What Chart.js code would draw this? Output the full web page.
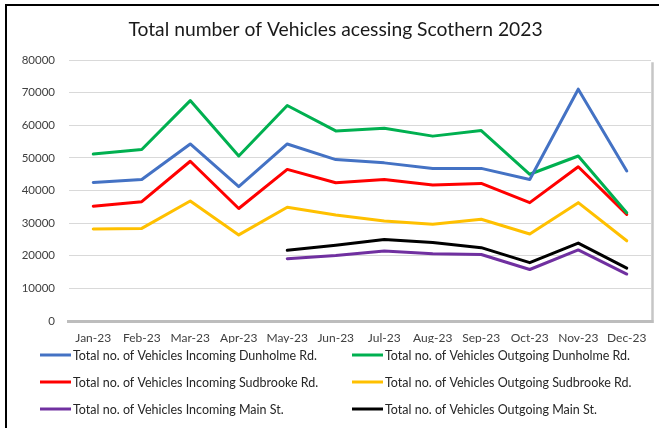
<!DOCTYPE html>
<html>
<head>
<meta charset="utf-8">
<script src="https://cdn.jsdelivr.net/npm/chart.js@4.4.1/dist/chart.umd.min.js"></script>
<style>
  html, body { margin: 0; padding: 0; background: #fff; }
  #wrap { position: relative; width: 659px; height: 428px; overflow: hidden; }
  #frame { position: absolute; left: 5px; top: 4px; width: 700px; height: 500px;
           border-top: 2px solid #000; border-left: 2px solid #000; pointer-events: none; }
  canvas { position: absolute; left: 0; top: 0; }
</style>
</head>
<body>
<div id="wrap">
  <canvas id="c" width="659" height="428"></canvas>
  <div id="frame"></div>
</div>
<script>
const months = ["Jan-23","Feb-23","Mar-23","Apr-23","May-23","Jun-23","Jul-23","Aug-23","Sep-23","Oct-23","Nov-23","Dec-23"];
const incomingDunholme  = [42500, 43400, 54300, 41200, 54300, 49500, 48500, 46800, 46800, 43400, 71100, 46000];
const outgoingDunholme  = [51200, 52600, 67600, 50600, 66100, 58300, 59100, 56700, 58400, 45000, 50600, 33200];
const incomingSudbrooke = [35200, 36600, 49000, 34500, 46500, 42400, 43400, 41700, 42200, 36300, 47300, 32700];
const outgoingSudbrooke = [28200, 28400, 36800, 26400, 34900, 32500, 30700, 29700, 31200, 26700, 36300, 24600];
const incomingMain      = [null, null, null, null, 19100, 20100, 21500, 20600, 20400, 15800, 21800, 14400];
const outgoingMain      = [null, null, null, null, 21700, 23200, 25000, 24100, 22500, 17900, 23900, 16200];
const yTicks = [0, 10000, 20000, 30000, 40000, 50000, 60000, 70000, 80000];
const titleText = "Total number of Vehicles acessing Scothern 2023";

const FONT = "Lato, 'Open Sans', sans-serif";

function ds(label, data, color) {
  return { label, data, borderColor: color, backgroundColor: color, borderWidth: 3,
           pointRadius: 0, tension: 0, spanGaps: false, borderJoinStyle: 'round', borderCapStyle: 'round' };
}

const frameShadow = {
  id: 'frameShadow',
  beforeDatasetsDraw(chart) {
    const {ctx, chartArea: a} = chart;
    ctx.save();
    ctx.strokeStyle = '#c6c6c6';
    ctx.lineWidth = 2.5;
    ctx.beginPath();
    ctx.moveTo(a.right + 1.5, a.top + 2);
    ctx.lineTo(a.right + 1.5, a.bottom + 2);
    ctx.stroke();
    ctx.strokeStyle = '#bdbdbd';
    ctx.lineWidth = 3;
    ctx.beginPath();
    ctx.moveTo(a.left - 2, a.bottom + 0.5);
    ctx.lineTo(a.right + 2.5, a.bottom + 0.5);
    ctx.stroke();
    ctx.restore();
  }
};

const customLegend = {
  id: 'customLegend',
  afterDraw(chart) {
    const {ctx} = chart;
    const dsets = chart.data.datasets;
    const cols = [40, 352];
    const rows = [355, 382, 409];
    ctx.save();
    ctx.font = "12.5px " + FONT;
    ctx.textBaseline = 'middle';
    ctx.textAlign = 'left';
    dsets.forEach((d, i) => {
      const x = cols[i % 2], y = rows[Math.floor(i / 2)];
      ctx.strokeStyle = d.borderColor;
      ctx.lineWidth = 3;
      ctx.beginPath();
      ctx.moveTo(x, y);
      ctx.lineTo(x + 31, y);
      ctx.stroke();
      ctx.fillStyle = '#262626';
      ctx.fillText(d.label, x + 33, y + 0.5);
    });
    ctx.restore();
  }
};

new Chart(document.getElementById('c'), {
  type: 'line',
  data: {
    labels: months,
    datasets: [
      ds("Total no. of Vehicles Incoming Dunholme Rd.", incomingDunholme, '#4472C4'),
      ds("Total no. of Vehicles Outgoing Dunholme Rd.", outgoingDunholme, '#00B050'),
      ds("Total no. of Vehicles Incoming Sudbrooke Rd.", incomingSudbrooke, '#FF0000'),
      ds("Total no. of Vehicles Outgoing Sudbrooke Rd.", outgoingSudbrooke, '#FFC000'),
      ds("Total no. of Vehicles Incoming Main St.", incomingMain, '#7030A0'),
      ds("Total no. of Vehicles Outgoing Main St.", outgoingMain, '#000000')
    ]
  },
  options: {
    responsive: false,
    animation: false,
    layout: { padding: { left: 20, right: 8, top: 0, bottom: 85 } },
    plugins: {
      legend: { display: false },
      tooltip: { enabled: false },
      title: {
        display: true, text: titleText, color: '#1a1a1a',
        font: { family: FONT, size: 19.3, weight: 'normal' },
        padding: { top: 18, bottom: 19 }
      }
    },
    scales: {
      x: {
        offset: true,
        grid: { display: false, drawTicks: false },
        border: { display: false },
        ticks: { color: '#404040', font: { family: FONT, size: 12 }, padding: 10, maxRotation: 0, autoSkip: false },
        afterFit(s) { s.height = 22; }
      },
      y: {
        min: 0, max: 80000,
        afterBuildTicks(s) { s.ticks = yTicks.map(v => ({ value: v })); },
        grid: { color: '#d9d9d9', lineWidth: 1, drawTicks: false },
        border: { display: false },
        ticks: { color: '#404040', font: { family: FONT, size: 11.5 }, padding: 14,
                 callback: (v) => String(v) },
        afterFit(s) { s.width = 49; }
      }
    }
  },
  plugins: [frameShadow, customLegend]
});
</script>
</body>
</html>
